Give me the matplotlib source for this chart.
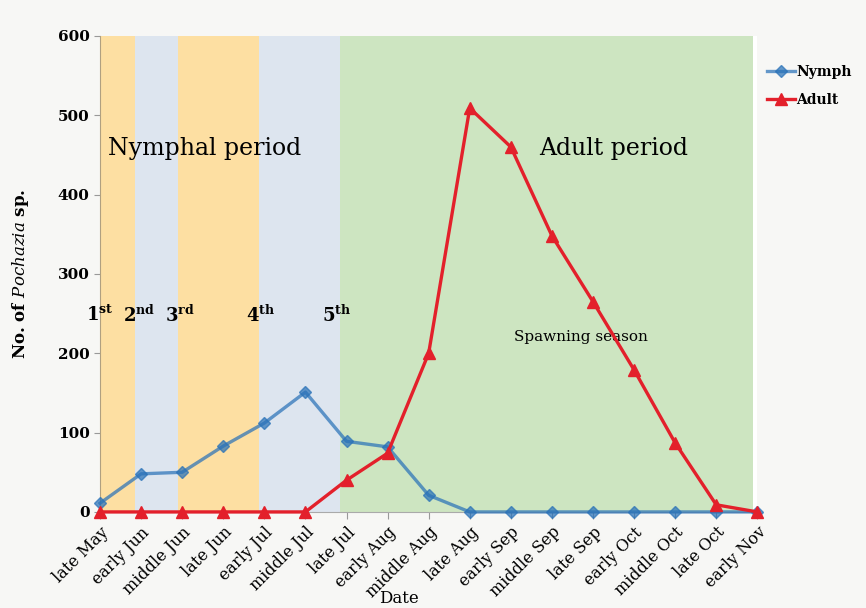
import matplotlib.pyplot as plt
import numpy as np

dates = ["late May", "early Jun", "middle Jun", "late Jun", "early Jul", "middle Jul",
         "late Jul", "early Aug", "middle Aug", "late Aug", "early Sep", "middle Sep",
         "late Sep", "early Oct", "middle Oct", "late Oct", "early Nov"]
nymph = [11, 48, 50, 83, 112, 151, 89, 82, 21, 0, 0, 0, 0, 0, 0, 0, 0]
adult = [0, 0, 0, 0, 0, 0, 40, 74, 200, 509, 460, 348, 265, 179, 87, 9, 0]
instars = ["1", "2", "3", "4", "5"]
suffixes = ["st", "nd", "rd", "th", "th"]

plt.rcParams["font.family"] = ["DejaVu Serif"]
plt.rcParams["mathtext.fontset"] = "dejavuserif"

fig = plt.figure(figsize=(8.66, 6.08), dpi=100, facecolor="#f7f7f5")
ax = fig.add_axes([0.1155, 0.158, 0.759, 0.783])
ax.set_facecolor("white")

x = np.arange(len(dates))

# background bands (instar stages / adult period)
bands = [(0, 0.85, "#fddfa2"), (0.85, 1.9, "#dde5ef"), (1.9, 3.87, "#fddfa2"),
         (3.87, 5.85, "#dde5ef"), (5.85, 15.9, "#cde5c1")]
for x0, x1, c in bands:
    ax.axvspan(x0, x1, ymin=0, ymax=1, color=c, lw=0, zorder=0)

ax.plot(x, nymph, color="#2a72b8", marker="D", markersize=6, lw=2.4,
        alpha=0.72, label="Nymph", clip_on=False, zorder=3)
ax.plot(x, adult, color="#e3202b", marker="^", markersize=8, lw=2.4,
        label="Adult", clip_on=False, zorder=4)

ax.set_xlim(0, 16)
ax.set_ylim(0, 600)
ax.set_yticks(range(0, 601, 100))
ax.set_yticklabels([str(v) for v in range(0, 601, 100)], fontweight="bold", fontsize=11)
ax.set_xticks(x)
ax.set_xticklabels(dates, rotation=45, ha="right", rotation_mode="anchor", fontsize=11.5)
ax.tick_params(axis="x", length=5, color="#999999")
ax.tick_params(axis="y", length=4, color="#999999")

for s in ["top", "right"]:
    ax.spines[s].set_visible(False)
ax.spines["left"].set_color("#b0a080")
ax.spines["bottom"].set_color("#aaaaaa")

ax.set_ylabel(r"No. of $\it{Pochazia}$ sp.", fontsize=12, fontweight="bold")
ax.yaxis.set_label_coords(-0.105, 0.5)
ax.set_xlabel("Date", fontsize=12)
ax.xaxis.set_label_coords(0.455, -0.165)

ax.text(2.55, 458, "Nymphal period", fontsize=17, ha="center", va="center")
ax.text(12.5, 458, "Adult period", fontsize=17, ha="center", va="center")
ax.text(11.7, 220, "Spawning season", fontsize=11, ha="center", va="center")

inst_x = [0, 0.95, 1.95, 3.9, 5.75]
for xi, n, s in zip(inst_x, instars, suffixes):
    ax.text(xi, 248, n + r"$^{\mathbf{" + s + "}}$", fontsize=13, fontweight="bold",
            ha="center", va="center")

leg = ax.legend(loc="upper left", bbox_to_anchor=(1.0, 0.96), frameon=False,
                prop={"weight": "bold", "size": 10}, handlelength=2.0,
                handletextpad=0.1, labelspacing=1.0, borderaxespad=0.3)

fig.savefig("out.png", dpi=100, facecolor=fig.get_facecolor())
